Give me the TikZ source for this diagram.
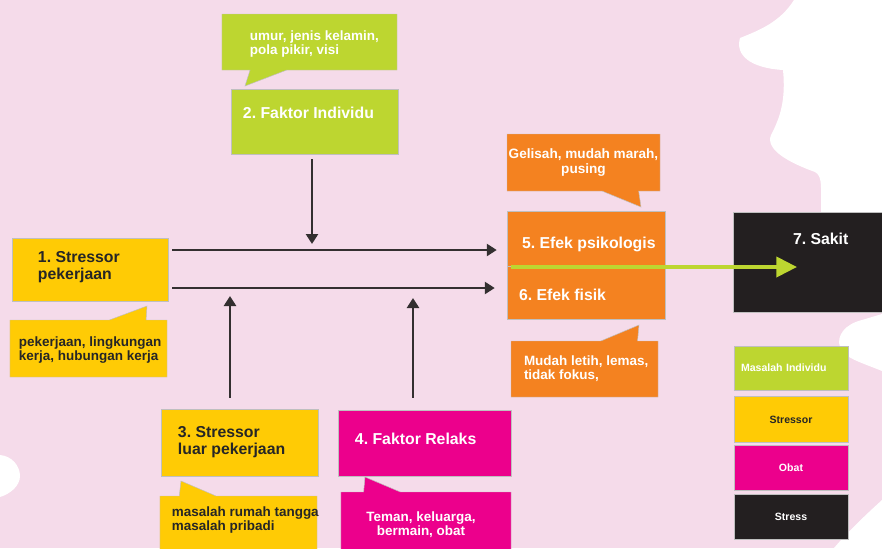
\documentclass[tikz,border=0pt]{standalone}
\usepackage{fontspec}
\setmainfont{Liberation Sans}
\usetikzlibrary{positioning}
\usetikzlibrary{arrows.meta}
\usetikzlibrary{shapes}
\definecolor{bgpink}{RGB}{245,219,234}
\definecolor{indgreen}{RGB}{189,214,48}
\definecolor{strsyellow}{RGB}{255,203,5}
\definecolor{obatmagenta}{RGB}{236,0,140}
\definecolor{efekorange}{RGB}{244,130,32}
\definecolor{stressblack}{RGB}{35,31,32}
\definecolor{arrowgray}{RGB}{51,47,48}
\tikzset{
        node_box/.style={rectangle, draw=black!25, line width=0.4pt, inner sep=0pt},
        % Individual factor
        node_individu/.style={node_box, fill=indgreen},
        % Stressors
        node_stressor/.style={node_box, fill=strsyellow},
        % Relax factor
        node_relaks/.style={node_box, fill=obatmagenta},
        % Effects
        node_efek/.style={node_box, fill=efekorange},
        % Illness
        node_sakit/.style={node_box, fill=stressblack},
        % Speech bubbles
        node_note/.style={rectangle callout, draw=black!25, line width=0.4pt, inner sep=0pt, callout pointer width=1.1cm},
        % Texts
        text_box/.style={inner sep=0pt, align=left, font=\frenchspacing\bfseries\fontsize{13.5}{14.5}\selectfont},
        text_note/.style={inner sep=0pt, align=left, font=\frenchspacing\bfseries\fontsize{11.5}{11.8}\selectfont},
        % Legend
        node_legend/.style={node_box, minimum width=3.42cm, font=\bfseries\fontsize{9}{10}\selectfont},
        % Arrows
        arrow_dark/.style={draw=arrowgray, line width=2.2pt, -{Triangle[length=0.3cm, width=0.36cm]}},
        arrow_green/.style={draw=indgreen, line width=3.4pt, -{Triangle[length=0.62cm, width=0.6cm]}}
}

\begin{document}
\begin{tikzpicture}[x=0.03cm, y=-0.03cm]
    % background
    \useasboundingbox (0,0) rectangle (882,548);
    \fill[bgpink] (0,0) rectangle (882,548);
    \fill[white] (794,0) .. controls (780,22) and (760,30) .. (740,38)
        .. controls (735,55) and (750,68) .. (783,70)
        .. controls (786,100) and (780,118) .. (771,135)
        .. controls (765,150) and (790,163) .. (815,172)
        .. controls (822,176) and (821,185) .. (821,200)
        -- (821,312) -- (882,312) -- (882,0) -- cycle;
    \fill[white] (882,314) -- (862,320) .. controls (845,324) and (836,336) .. (840,347)
        .. controls (844,358) and (860,362) .. (882,371) -- cycle;
    \fill[white] (882,500) .. controls (860,520) and (845,535) .. (834,548) -- (882,548) -- cycle;
    \fill[white] (0,455) .. controls (12,456) and (20,466) .. (20,476)
        .. controls (20,486) and (10,494) .. (0,497) -- cycle;

    % junctions and bubble tips
    \coordinate (j_ind) at (312,250);
    \coordinate (j_luar) at (230,288);
    \coordinate (j_rel) at (413,288);
    \coordinate (j_sakit) at (797,267);
    \coordinate (tip_umur) at (245,86);
    \coordinate (tip_kerja) at (147,306);
    \coordinate (tip_luar) at (181,481);
    \coordinate (tip_relaks) at (365,477);
    \coordinate (tip_psiko) at (641,207);
    \coordinate (tip_fisik) at (639,325);

    % 2. Faktor Individu
    \node[node_note, fill=indgreen, minimum width=5.25cm, minimum height=1.68cm, callout absolute pointer={(tip_umur)}] (note_umur) at (309.5,42) {};
    \node[text_note, text=white, below right=0.51cm and 0.84cm of note_umur.north west] (umur_txt) {umur, jenis kelamin,\\pola pikir, visi};
    \node[node_individu, minimum width=5.01cm, minimum height=1.95cm] (individu) at (314.5,121.5) {};
    \node[text_box, text=white, below right=0.54cm and 0.36cm of individu.north west] (individu_txt) {2. Faktor Individu};

    % 1. Stressor pekerjaan
    \node[node_stressor, minimum width=4.68cm, minimum height=1.89cm] (stressor1) at (90,269.5) {};
    \node[text_box, text=black!85, below right=0.39cm and 0.78cm of stressor1.north west] (stressor1_txt) {1. Stressor\\pekerjaan};
    \node[node_note, fill=strsyellow, minimum width=4.71cm, minimum height=1.71cm, callout absolute pointer={(tip_kerja)}] (note_kerja) at (88.5,348.5) {};
    \node[text_note, text=black!85, below right=0.51cm and 0.27cm of note_kerja.north west] (kerja_txt) {pekerjaan, lingkungan\\kerja, hubungan kerja};

    % 3. Stressor luar pekerjaan
    \node[node_stressor, minimum width=4.71cm, minimum height=2.01cm] (stressor3) at (239.5,442.5) {};
    \node[text_box, text=black!85, below right=0.51cm and 0.51cm of stressor3.north west] (stressor3_txt) {3. Stressor\\luar pekerjaan};
    \node[node_note, fill=strsyellow, minimum width=4.71cm, minimum height=2.22cm, callout absolute pointer={(tip_luar)}] (note_luar) at (238.5,533) {};
    \node[text_note, text=black!85, below right=0.33cm and 0.36cm of note_luar.north west] (luar_txt) {masalah rumah tangga\\masalah pribadi};

    % 4. Faktor Relaks
    \node[node_relaks, minimum width=5.19cm, minimum height=1.98cm] (relaks) at (424.5,443) {};
    \node[text_box, text=white, below right=0.69cm and 0.51cm of relaks.north west] (relaks_txt) {4. Faktor Relaks};
    \node[node_note, fill=obatmagenta, minimum width=5.1cm, minimum height=2.34cm, callout absolute pointer={(tip_relaks)}] (note_relaks) at (426,531) {};
    \node[text_note, text=white, align=center, below=0.6cm of note_relaks.north, xshift=-0.15cm] (relaks_note_txt) {Teman, keluarga,\\bermain, obat};

    % 5./6. Efek
    \node[node_note, fill=efekorange, minimum width=4.59cm, minimum height=1.71cm, callout absolute pointer={(tip_psiko)}] (note_psiko) at (583.5,162.5) {};
    \node[text_note, text=white, align=center, font=\bfseries\fontsize{11.6}{12.2}\selectfont, below=0.45cm of note_psiko.north] (psiko_txt) {Gelisah, mudah marah,\\pusing};
    \node[node_efek, minimum width=4.74cm, minimum height=1.65cm] (psikologis) at (586,238.5) {};
    \node[node_efek, minimum width=4.74cm, minimum height=1.59cm, below=0cm of psikologis] (fisik) {};
    \node[text_box, text=white, below right=0.78cm and 0.45cm of psikologis.north west] (psikologis_txt) {5. Efek psikologis};
    \node[text_box, text=white, below right=0.69cm and 0.36cm of fisik.north west] (fisik_txt) {6. Efek fisik};
    \node[node_note, fill=efekorange, minimum width=4.41cm, minimum height=1.68cm, callout absolute pointer={(tip_fisik)}] (note_fisik) at (584.5,369) {};
    \node[text_note, text=white, below right=0.45cm and 0.39cm of note_fisik.north west] (fisik_note_txt) {Mudah letih, lemas,\\tidak fokus,};

    % 7. Sakit
    \node[node_sakit, minimum width=4.86cm, minimum height=3cm] (sakit) at (814,262) {};
    \node[text_box, text=white, below right=0.63cm and 1.8cm of sakit.north west] (sakit_txt) {7. Sakit};

    % legend
    \node[node_legend, fill=indgreen, text=white, minimum height=1.32cm, text width=3cm, inner xsep=0.21cm, align=left] (leg_ind) at (791,368) {Masalah Individu};
    \node[node_legend, fill=strsyellow, text=black!85, minimum height=1.38cm, below=0.18cm of leg_ind] (leg_str) {Stressor};
    \node[node_legend, fill=obatmagenta, text=white, minimum height=1.35cm, below=0.06cm of leg_str] (leg_obat) {Obat};
    \node[node_legend, fill=stressblack, text=white, minimum height=1.35cm, below=0.12cm of leg_obat] (leg_stress) {Stress};

    % connectors
    \draw[arrow_dark, shorten <=0.12cm, shorten >=0.3cm] (stressor1.east |- j_ind) -- (psikologis.west |- j_ind);
    \draw[arrow_dark, shorten <=0.12cm, shorten >=0.36cm] (stressor1.east |- j_luar) -- (fisik.west |- j_luar);
    \draw[arrow_dark, shorten <=0.15cm, shorten >=0.18cm] (individu.south -| j_ind) -- (j_ind);
    \draw[arrow_dark, shorten <=0.33cm, shorten >=0.24cm] (stressor3.north -| j_luar) -- (j_luar);
    \draw[arrow_dark, shorten <=0.36cm, shorten >=0.3cm] (relaks.north -| j_rel) -- (j_rel);
    \draw[arrow_green, shorten <=0.12cm] (psikologis.south west |- j_sakit) -- (j_sakit);
\end{tikzpicture}
\end{document}
